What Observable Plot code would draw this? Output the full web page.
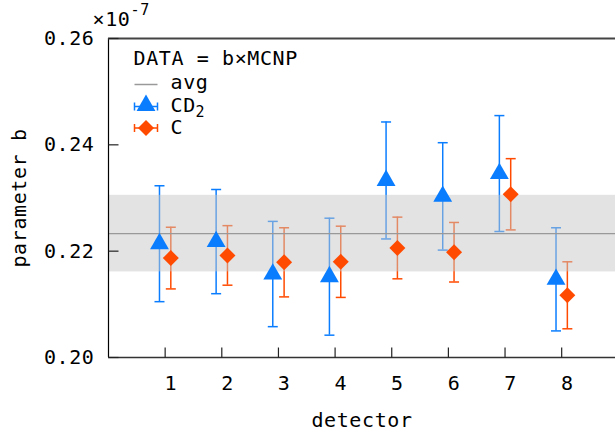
<!DOCTYPE html>
<html>
<head>
<meta charset="utf-8">
<script src="https://cdn.jsdelivr.net/npm/d3@7"></script>
<script src="https://cdn.jsdelivr.net/npm/@observablehq/plot@0.6"></script>
<style>
  html, body { margin: 0; padding: 0; background: #fff; }
</style>
</head>
<body>
<div id="chart"></div>
<script>
// ---- data (values shown in units of 1e-7) ----
const detectors = [1, 2, 3, 4, 5, 6, 7, 8];
const cd2Values = [0.2214, 0.2218, 0.2157, 0.2152, 0.2333, 0.2303, 0.2346, 0.2147];
const cd2Errors = [0.0109, 0.0098, 0.0099, 0.0110, 0.0110, 0.0101, 0.0109, 0.0097];
const cValues   = [0.2187, 0.2192, 0.2179, 0.2180, 0.2206, 0.2198, 0.2307, 0.2117];
const cErrors   = [0.0058, 0.0056, 0.0065, 0.0067, 0.0058, 0.0056, 0.0067, 0.0063];
const avgValue = 0.2233;
const avgError = 0.0072;
const yTicks = [0.20, 0.22, 0.24, 0.26];
const yTickLabels = ["0.20", "0.22", "0.24", "0.26"];
const xTickLabels = ["1", "2", "3", "4", "5", "6", "7", "8"];

const blue = "#0a7dff";
const orange = "#ff4a00";
const offset = 0.1;

const cd2 = detectors.map((d, i) => ({d, x: d - offset, v: cd2Values[i], lo: cd2Values[i] - cd2Errors[i], hi: cd2Values[i] + cd2Errors[i]}));
const cc  = detectors.map((d, i) => ({d, x: d + offset, v: cValues[i], lo: cValues[i] - cErrors[i], hi: cValues[i] + cErrors[i]}));

// custom symbols
const hcap = {draw(ctx) { ctx.moveTo(-5, 0); ctx.lineTo(5, 0); }};
const yTickSym = {draw(ctx) { ctx.moveTo(0, 0); ctx.lineTo(10, 0); }};
const xTickSym = {draw(ctx) { ctx.moveTo(0, 0); ctx.lineTo(0, -10); }};
const legLine = {draw(ctx) { ctx.moveTo(-11.5, 0); ctx.lineTo(11.5, 0); }};
const legBar = {draw(ctx) {
  ctx.moveTo(-11.5, 0); ctx.lineTo(11.5, 0);
  ctx.moveTo(-11.5, -4); ctx.lineTo(-11.5, 4);
  ctx.moveTo(11.5, -4); ctx.lineTo(11.5, 4);
}};

const font = "DejaVu Sans Mono";
const fs = 20;
const T = {fill: "#000", lineAnchor: "middle"};

const plot = Plot.plot({
  width: 615,
  height: 436,
  marginLeft: 108,
  marginRight: 0,
  marginTop: 38,
  marginBottom: 79,
  style: {fontFamily: font, fontSize: fs + "px", letterSpacing: "0.6px", background: "#fff", overflow: "visible"},
  x: {domain: [0, 8.95], axis: null},
  y: {domain: [0.20, 0.26], axis: null},
  marks: [
    // error bars
    Plot.ruleX(cd2, {x: "x", y1: "lo", y2: "hi", stroke: blue, strokeWidth: 1.5}),
    Plot.dot(cd2, {x: "x", y: "lo", symbol: hcap, fill: "none", stroke: blue, strokeWidth: 1.5}),
    Plot.dot(cd2, {x: "x", y: "hi", symbol: hcap, fill: "none", stroke: blue, strokeWidth: 1.5}),
    Plot.ruleX(cc, {x: "x", y1: "lo", y2: "hi", stroke: orange, strokeWidth: 1.5}),
    Plot.dot(cc, {x: "x", y: "lo", symbol: hcap, fill: "none", stroke: orange, strokeWidth: 1.5}),
    Plot.dot(cc, {x: "x", y: "hi", symbol: hcap, fill: "none", stroke: orange, strokeWidth: 1.5}),
    // average band and line
    Plot.rect([{lo: avgValue - avgError, hi: avgValue + avgError}], {y1: "lo", y2: "hi", fill: "#c8c8c8", fillOpacity: 0.5}),
    Plot.ruleY([avgValue], {stroke: "#999", strokeWidth: 1.2}),
    // markers
    Plot.dot(cd2, {x: "x", y: "v", symbol: "triangle", r: 7, fill: blue, stroke: "none"}),
    Plot.dot(cc, {x: "x", y: "v", symbol: "diamond2", r: 7.2, fill: orange, stroke: "none"}),
    // frame
    Plot.ruleX([0], {stroke: "#000", strokeWidth: 1.2}),
    Plot.ruleY([0.20], {stroke: "#333", strokeWidth: 1.5}),
    Plot.ruleY([0.26], {stroke: "#444", strokeWidth: 2}),
    // ticks
    Plot.dot(yTicks, {x: 0, y: d => d, symbol: yTickSym, fill: "none", stroke: "#222", strokeWidth: 1.2}),
    Plot.dot(detectors, {x: d => d, y: 0.20, symbol: xTickSym, fill: "none", stroke: "#222", strokeWidth: 1.2}),
    // tick labels
    Plot.text(yTicks, {...T, x: 0, y: d => d, text: (d, i) => yTickLabels[i], textAnchor: "end", dx: -14}),
    Plot.text(detectors, {...T, x: d => d + offset, y: 0.20, text: (d, i) => xTickLabels[i], dy: 26}),
    // axis labels
    Plot.text(["parameter b"], {...T, frameAnchor: "left", textAnchor: "middle", rotate: -90, dx: -89}),
    Plot.text(["detector"], {...T, frameAnchor: "bottom", textAnchor: "middle", dy: 63}),
    Plot.text(["×10"], {...T, frameAnchor: "top-left", textAnchor: "start", dx: -16, dy: -19}),
    Plot.text(["-7"], {...T, frameAnchor: "top-left", textAnchor: "start", dx: 22, dy: -28, fontSize: 15}),
    // legend
    Plot.text(["DATA = b×MCNP"], {...T, frameAnchor: "top-left", textAnchor: "start", dx: 25, dy: 20}),
    Plot.dot([0], {frameAnchor: "top-left", dx: 37.5, dy: 46, symbol: legLine, fill: "none", stroke: "#999", strokeWidth: 1.5}),
    Plot.text(["avg"], {...T, frameAnchor: "top-left", textAnchor: "start", dx: 62, dy: 44}),
    Plot.dot([0], {frameAnchor: "top-left", dx: 37.5, dy: 68, symbol: legBar, fill: "none", stroke: blue, strokeWidth: 1.5}),
    Plot.dot([0], {frameAnchor: "top-left", dx: 37.5, dy: 67, symbol: "triangle", r: 7, fill: blue, stroke: "none"}),
    Plot.text(["CD"], {...T, frameAnchor: "top-left", textAnchor: "start", dx: 62, dy: 67}),
    Plot.text(["2"], {...T, frameAnchor: "top-left", textAnchor: "start", dx: 87, dy: 74, fontSize: 15}),
    Plot.dot([0], {frameAnchor: "top-left", dx: 37.5, dy: 89.5, symbol: legBar, fill: "none", stroke: orange, strokeWidth: 1.5}),
    Plot.dot([0], {frameAnchor: "top-left", dx: 37.5, dy: 89.5, symbol: "diamond2", r: 7.2, fill: orange, stroke: "none"}),
    Plot.text(["C"], {...T, frameAnchor: "top-left", textAnchor: "start", dx: 62, dy: 89})
  ]
});
document.getElementById("chart").appendChild(plot);
</script>
</body>
</html>
